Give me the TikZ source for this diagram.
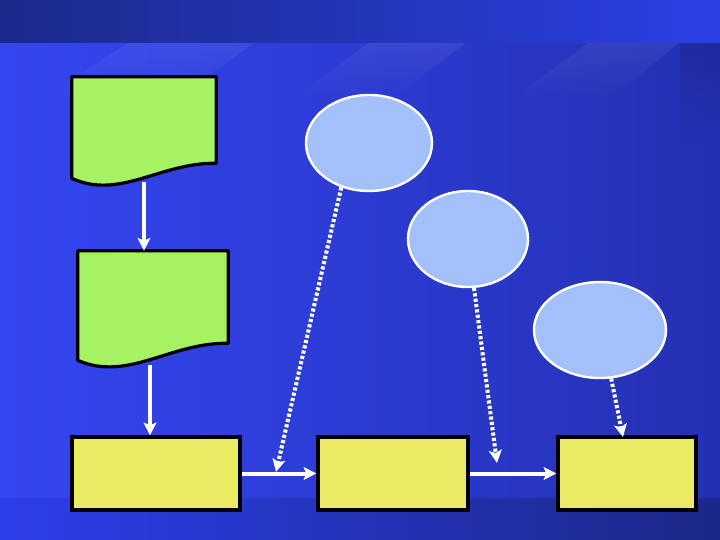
\documentclass[tikz,border=0pt]{standalone}
\usetikzlibrary{shapes.geometric,arrows.meta,fadings}
\definecolor{docgreen}{RGB}{166,242,98}
\definecolor{stepyellow}{RGB}{234,234,100}
\definecolor{noteblue}{RGB}{164,192,250}
\definecolor{bgtopL}{RGB}{28,42,140}
\definecolor{bgtopR}{RGB}{42,64,228}
\definecolor{bgmidL}{RGB}{52,70,242}
\definecolor{bgmidR}{RGB}{36,48,178}
\definecolor{bgbotL}{RGB}{44,62,235}
\definecolor{bgbotR}{RGB}{28,40,135}
\tikzset{
  docline/.style={draw=black,fill=docgreen,line width=0.8mm,line join=round},
  flow/.style={draw=white,line width=1mm,-{Stealth[length=3.2mm,width=3.2mm,inset=0.7mm]}},
  hint/.style={draw=white,line width=1mm,dash pattern=on 0.8mm off 0.55mm,
    -{Stealth[length=3.2mm,width=3.2mm,inset=0.7mm]}},
  streak/.style={fill=white,opacity=0.07,path fading=south}
}
\begin{document}
\begin{tikzpicture}[x=0.25mm,y=-0.25mm]
\useasboundingbox (0,0) rectangle (720,540);
\shade[left color=bgmidL,right color=bgmidR] (0,42) rectangle (720,498);
\fill[streak] (130,42) -- (255,42) -- (175,100) -- (40,100) -- cycle;
\fill[streak] (370,42) -- (467,42) -- (390,100) -- (290,100) -- cycle;
\fill[streak] (590,42) -- (680,42) -- (610,100) -- (510,100) -- cycle;
\fill[black,opacity=0.12,path fading=south] (680,42) rectangle (720,140);
\shade[left color=bgtopL,right color=bgtopR] (0,0) rectangle (720,42);
\shade[left color=bgbotL,right color=bgbotR] (0,498) rectangle (720,540);

\begin{scope}[every node/.style={rectangle,inner sep=0pt}]
\node[minimum width=36mm,minimum height=21.5mm] (DocA) at (144,120) {};
\node[minimum width=37.5mm,minimum height=23mm] (DocB) at (153,297) {};
\end{scope}
\path[docline] (DocA.south east) .. controls +(-56,-1) and +(48,22) .. ([yshift=-3.75mm]DocA.south west)
  -- (DocA.north west) -- (DocA.north east) -- cycle;
\path[docline] (DocB.south east) .. controls +(-58,-1) and +(50,22) .. ([yshift=-4.25mm]DocB.south west)
  -- (DocB.north west) -- (DocB.north east) -- cycle;
\coordinate (DocAout) at (144,182);
\coordinate (DocBout) at (150,365);

\begin{scope}[every node/.style={ellipse,draw=white,line width=0.6mm,fill=noteblue,
    minimum height=24mm,inner sep=0pt}]
\node[minimum width=31.5mm] (NoteA) at (369,143) {};
\node[minimum width=30mm] (NoteB) at (468,239) {};
\node[minimum width=33mm] (NoteC) at (600,330) {};
\end{scope}

\begin{scope}[every node/.style={rectangle,draw=black,line width=0.8mm,fill=stepyellow,
    minimum height=18.25mm,inner sep=0pt}]
\node[minimum width=42mm] (Step1) at (156,473.5) {};
\node[minimum width=37.5mm] (Step2) at (393,473.5) {};
\node[minimum width=34.5mm] (Step3) at (627,473.5) {};
\end{scope}
\coordinate (HitA) at (276,472);
\coordinate (HitB) at (497,463);
\coordinate (HitC) at (623,437);

\begin{scope}[every edge/.style={flow}]
    \path (DocAout) edge (DocAout |- DocB.north);
    \path (DocBout) edge (DocBout |- Step1.north);
    \path (Step1.east) edge (Step2.west);
    \path (Step2.east) edge (Step3.west);
\end{scope}

\begin{scope}[every edge/.style={hint}]
    \path (NoteA.-122) edge (HitA);
    \path (NoteB.-83) edge (HitB);
    \path (NoteC.-77) edge (HitC);
\end{scope}
\end{tikzpicture}
\end{document}
